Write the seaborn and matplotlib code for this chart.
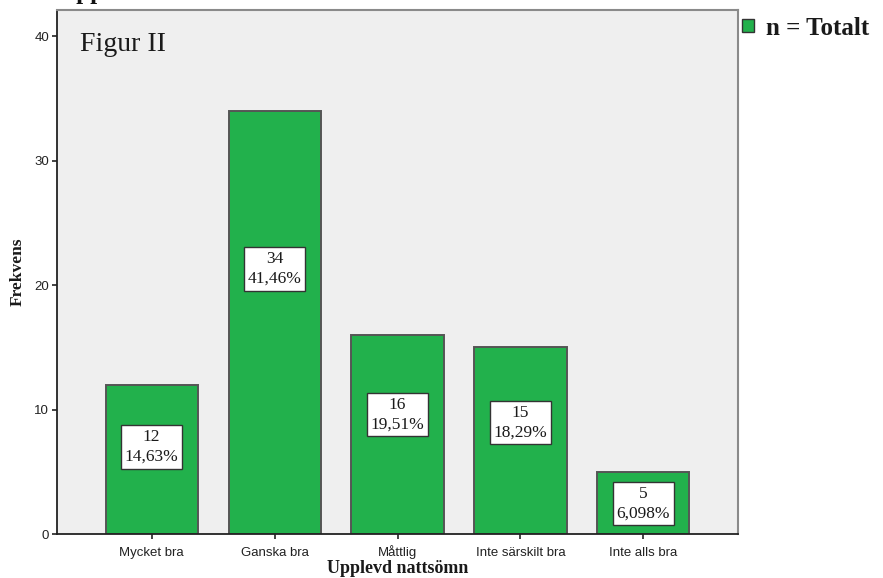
import matplotlib
matplotlib.use("Agg")
import matplotlib.pyplot as plt
import seaborn as sns
import pandas as pd

# Answers to "Upplevd nattsömn"
categories = ["Mycket bra", "Ganska bra", "Måttlig", "Inte särskilt bra", "Inte alls bra"]
counts = [12, 34, 16, 15, 5]
percents = ["14,63%", "41,46%", "19,51%", "18,29%", "6,098%"]
series_name = "n = Totalt"
y_ticks = [0, 10, 20, 30, 40]

df = pd.DataFrame({"kategori": categories, "antal": counts, "n": series_name})

sns.set_theme(style="white")
plt.rcParams["font.family"] = ["Liberation Sans", "DejaVu Sans"]

fig = plt.figure(figsize=(8.83, 5.78), dpi=100)
ax = fig.add_axes([0.0646, 0.0761, 0.7712, 0.9066])
ax.set_facecolor("#efefef")

green = "#22b14c"
sns.barplot(data=df, x="kategori", y="antal", hue="n", palette=[green],
            saturation=1, width=0.75, edgecolor="#555555", linewidth=1.4,
            ax=ax, order=categories)

ax.set_xlim(-0.77, 4.77)
ax.set_ylim(0, 42.1)
ax.set_yticks(y_ticks)

# value / percent boxes inside each bar
for i, (c, p) in enumerate(zip(counts, percents)):
    ax.text(i, c * 0.65 - 0.8, f"{c}\n{p}", ha="center", va="center",
            multialignment="center", fontsize=12.5, linespacing=1.3,
            family="Liberation Serif", color="#1a1a1a",
            bbox=dict(boxstyle="square,pad=0.22", facecolor="white",
                      edgecolor="#333333", linewidth=1.0))

for side in ["left", "bottom"]:
    ax.spines[side].set_color("#222222")
    ax.spines[side].set_linewidth(1.3)
for side in ["top", "right"]:
    ax.spines[side].set_color("#8a8a8a")
    ax.spines[side].set_linewidth(1.5)

ax.tick_params(axis="both", which="major", direction="out", length=3.6,
               width=1.2, color="#222222", labelsize=9.5,
               labelcolor="#222222", bottom=True, left=True)
ax.tick_params(axis="y", pad=2)
ax.tick_params(axis="x", pad=12)
for lab in ax.get_xticklabels():
    lab.set_verticalalignment("baseline")

ax.set_xlabel("Upplevd nattsömn", family="Liberation Serif", fontweight="bold",
              fontsize=13, color="#1a1a1a", labelpad=1)
ax.set_ylabel("Frekvens", family="Liberation Serif", fontweight="bold",
              fontsize=12.5, color="#1a1a1a", labelpad=6)

ax.text(0.033, 0.935, "Figur II", transform=ax.transAxes, ha="left", va="center",
        family="Liberation Serif", fontsize=20, color="#1a1a1a")

# chart title, sitting at the very top edge of the figure
fig.text(0.066, 1.001, "Upplevd nattsömn", ha="left", va="baseline",
         family="Liberation Serif", fontweight="bold", fontsize=18,
         color="#111111")

leg = ax.legend(loc="upper left", bbox_to_anchor=(0.999, 0.997), frameon=False,
                handlelength=0.45, handleheight=0.45, handletextpad=0.5,
                borderaxespad=0, borderpad=0.2,
                prop={"family": "Liberation Serif", "weight": "bold", "size": 18})
for h in leg.legend_handles:
    h.set_edgecolor("#333333")
    h.set_linewidth(1.0)
for t in leg.get_texts():
    t.set_color("#1a1a1a")

fig.savefig("out.png", dpi=100)
